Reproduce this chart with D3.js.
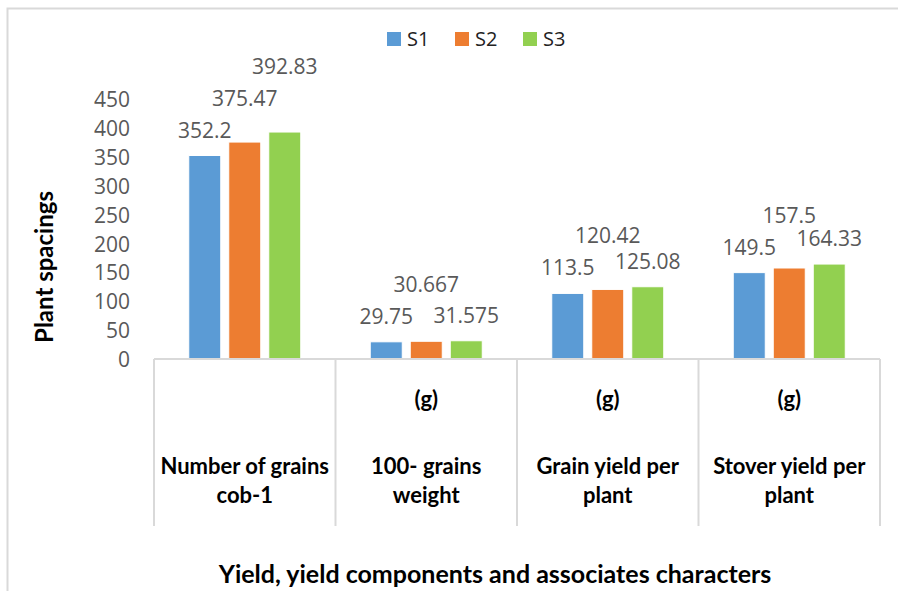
<!DOCTYPE html>
<html>
<head>
<meta charset="utf-8">
<script src="https://cdn.jsdelivr.net/npm/d3@7"></script>
<style>
  body { margin: 0; background: #fff; }
  svg { display: block; }
</style>
</head>
<body>
<div id="chart"></div>
<script>
// data
const categories = ["Number of grains cob-1", "100- grains weight (g)", "Grain yield per plant (g)", "Stover yield per plant (g)"];
const catLines = [["Number of grains", "cob-1"], ["100- grains", "weight"], ["Grain yield per", "plant"], ["Stover yield per", "plant"]];
const catUnits = ["", "(g)", "(g)", "(g)"];
const series = ["S1", "S2", "S3"];
const s1 = [352.2, 29.75, 113.5, 149.5];
const s2 = [375.47, 30.667, 120.42, 157.5];
const s3 = [392.83, 31.575, 125.08, 164.33];
const seriesLabels = [["352.2", "29.75", "113.5", "149.5"], ["375.47", "30.667", "120.42", "157.5"], ["392.83", "31.575", "125.08", "164.33"]];
const yTicks = [0, 50, 100, 150, 200, 250, 300, 350, 400, 450];
const colors = ["#5B9BD5", "#ED7D31", "#92D050"];

const values = [s1, s2, s3];
const width = 898, height = 591;

const svg = d3.select("#chart")
	.append("svg")
	.attr("width", width)
	.attr("height", height);

// chart frame
svg.append("rect")
	.attr("x", 7.5)
	.attr("y", 8.5)
	.attr("width", 1000)
	.attr("height", 700)
	.attr("fill", "none")
	.attr("stroke", "#d9d9d9")
	.attr("stroke-width", 2);

const x = d3.scaleBand()
	.domain(categories)
	.range([154, 880]);

const x1 = d3.scaleBand()
	.domain(series)
	.range([0, 112])
	.paddingInner(0.2);

const groupOffset = (x.bandwidth() - 112) / 2;

const y = d3.scaleLinear()
	.domain([0, 450])
	.range([359, 99]);

// y axis (labels only)
const yAxis = svg.append("g")
	.attr("transform", "translate(154,0)")
	.call(d3.axisLeft(y).tickValues(yTicks).tickSize(0).tickPadding(24));
yAxis.select(".domain").remove();
yAxis.selectAll("text")
	.attr("font-family", "'Open Sans', sans-serif")
	.attr("font-size", 21)
	.attr("fill", "#595959")
	.attr("dy", "0.36em");

// bars
const rows = [];
series.forEach(function(s, i) {
	categories.forEach(function(c, j) {
		rows.push({ s: s, si: i, c: c, ci: j, v: values[i][j], label: seriesLabels[i][j] });
	});
});

svg.selectAll("rect.bar")
	.data(rows)
	.enter()
	.append("rect")
	.attr("class", "bar")
	.attr("x", function(d) { return x(d.c) + groupOffset + x1(d.s); })
	.attr("y", function(d) { return y(d.v); })
	.attr("width", x1.bandwidth())
	.attr("height", function(d) { return y(0) - y(d.v); })
	.attr("fill", function(d) { return colors[d.si]; })
	.attr("stroke", "#fff")
	.attr("stroke-width", 1);

// category axis: line + long dividers
const xAxis = svg.append("g").attr("stroke", "#d9d9d9").attr("stroke-width", 2);
xAxis.append("line")
	.attr("x1", x.range()[0]).attr("x2", x.range()[1])
	.attr("y1", y(0)).attr("y2", y(0));
const bounds = categories.map(function(c) { return x(c); }).concat([x.range()[1]]);
xAxis.selectAll("line.div")
	.data(bounds)
	.enter()
	.append("line")
	.attr("class", "div")
	.attr("x1", function(d) { return d; }).attr("x2", function(d) { return d; })
	.attr("y1", y(0)).attr("y2", 526);

// category labels
const catG = svg.append("g")
	.attr("font-family", "Lato, sans-serif")
	.attr("font-weight", "bold")
	.attr("font-size", 22)
	.attr("fill", "#000")
	.attr("text-anchor", "middle");
categories.forEach(function(c, j) {
	const cx = x(c) + x.bandwidth() / 2;
	catG.append("text").attr("x", cx).attr("y", 407).text(catUnits[j]);
	catLines[j].forEach(function(t, k) {
		catG.append("text").attr("x", cx).attr("y", 474 + k * 29).text(t);
	});
});

// data labels, nudged up when they collide (like Excel does)
const labelG = svg.append("g")
	.attr("font-family", "'Open Sans', sans-serif")
	.attr("font-size", 21)
	.attr("fill", "#595959")
	.attr("text-anchor", "middle");
const textH = 20, lift = 32;
categories.forEach(function(c, j) {
	const placed = [];
	series.forEach(function(s, i) {
		const cx = x(c) + groupOffset + x1(s) + x1.bandwidth() / 2;
		const t = labelG.append("text")
			.attr("x", cx)
			.text(seriesLabels[i][j]);
		const w = t.node().getComputedTextLength();
		let base = y(values[i][j]) - 18;
		let moved = true;
		while (moved) {
			moved = false;
			placed.forEach(function(p) {
				if (Math.abs(p.cx - cx) < (p.w + w) / 2 && Math.abs(p.base - base) < textH) {
					base = p.base - lift;
					moved = true;
				}
			});
		}
		t.attr("y", base);
		placed.push({ cx: cx, w: w, base: base });
	});
});

// legend
const legend = svg.append("g")
	.selectAll("g")
	.data(series)
	.enter()
	.append("g")
	.attr("transform", function(d, i) { return "translate(" + (387 + i * 68) + ",32)"; });
legend.append("rect")
	.attr("width", 14)
	.attr("height", 14)
	.attr("fill", function(d, i) { return colors[i]; });
legend.append("text")
	.attr("x", 20)
	.attr("y", 14)
	.attr("font-family", "'Open Sans', sans-serif")
	.attr("font-size", 20)
	.attr("fill", "#222")
	.text(function(d) { return d; });

// axis titles
svg.append("text")
	.attr("transform", "translate(53,267) rotate(-90)")
	.attr("text-anchor", "middle")
	.attr("font-family", "Lato, sans-serif")
	.attr("font-weight", "bold")
	.attr("font-size", 24)
	.text("Plant spacings");

svg.append("text")
	.attr("x", 495)
	.attr("y", 583)
	.attr("text-anchor", "middle")
	.attr("font-family", "Lato, sans-serif")
	.attr("font-weight", "bold")
	.attr("font-size", 25)
	.text("Yield, yield components and associates characters");
</script>
</body>
</html>
